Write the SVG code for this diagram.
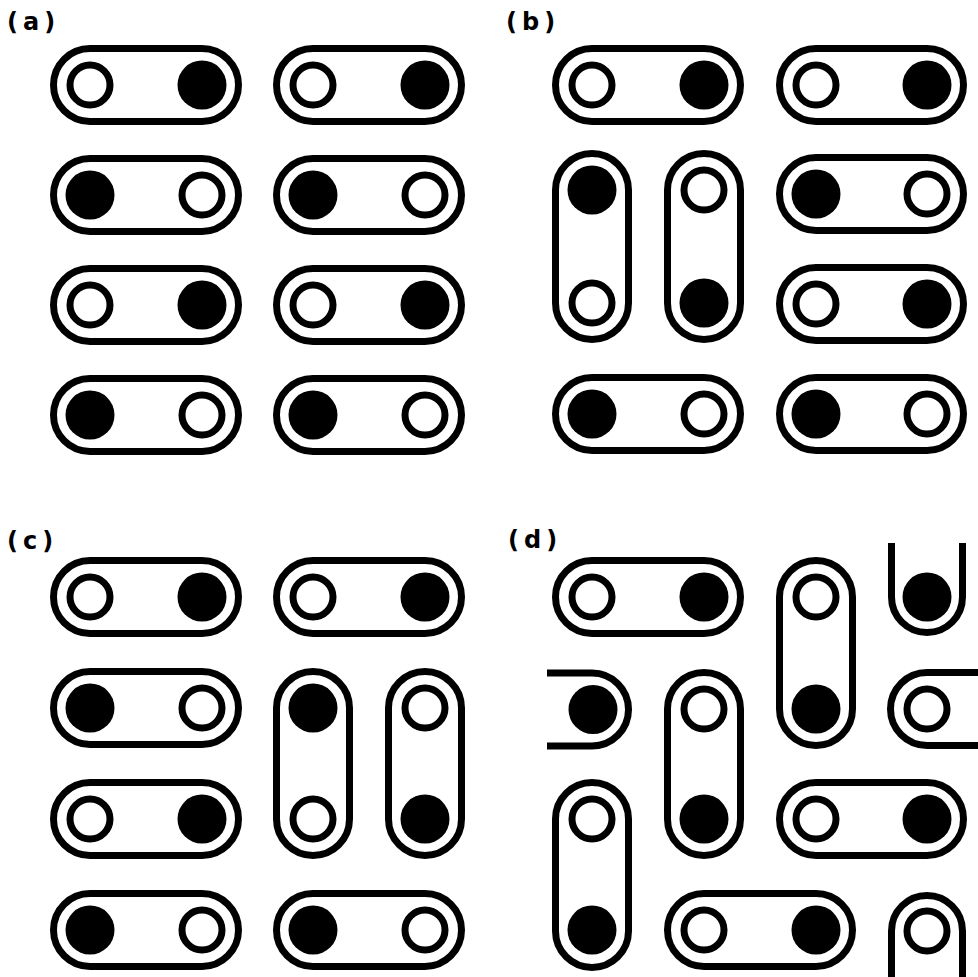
<svg xmlns="http://www.w3.org/2000/svg" width="978" height="977" viewBox="0 0 978 977">
<style>
.bg{fill:#fff}
.p{fill:none;stroke:#000;stroke-width:7}
.o{fill:#fff;stroke:#000;stroke-width:7}
.f{fill:#000}
.lbl{font-family:"DejaVu Sans",sans-serif;font-weight:bold;font-size:24px;letter-spacing:5px;fill:#000}
</style>
<rect class="bg" x="0" y="0" width="978" height="977"/>
<g id="labels">
<text class="lbl" x="7" y="30">(a)</text>
<text class="lbl" x="506" y="30">(b)</text>
<text class="lbl" x="7" y="549">(c)</text>
<text class="lbl" x="508" y="548">(d)</text>
</g>
<!-- Panel (a) -->
<g id="a11"><rect class="p" x="53.5" y="48.5" width="185" height="73" rx="36.5"/><circle class="o" cx="90" cy="85" r="20"/><circle class="f" cx="202" cy="85" r="24.5"/></g>
<g id="a12"><rect class="p" x="276.5" y="48.5" width="185" height="73" rx="36.5"/><circle class="o" cx="313" cy="85" r="20"/><circle class="f" cx="425" cy="85" r="24.5"/></g>
<g id="a21"><rect class="p" x="53.5" y="158.5" width="185" height="73" rx="36.5"/><circle class="f" cx="90" cy="195" r="24.5"/><circle class="o" cx="202" cy="195" r="20"/></g>
<g id="a22"><rect class="p" x="276.5" y="158.5" width="185" height="73" rx="36.5"/><circle class="f" cx="313" cy="195" r="24.5"/><circle class="o" cx="425" cy="195" r="20"/></g>
<g id="a31"><rect class="p" x="53.5" y="268.5" width="185" height="73" rx="36.5"/><circle class="o" cx="90" cy="305" r="20"/><circle class="f" cx="202" cy="305" r="24.5"/></g>
<g id="a32"><rect class="p" x="276.5" y="268.5" width="185" height="73" rx="36.5"/><circle class="o" cx="313" cy="305" r="20"/><circle class="f" cx="425" cy="305" r="24.5"/></g>
<g id="a41"><rect class="p" x="53.5" y="378.5" width="185" height="73" rx="36.5"/><circle class="f" cx="90" cy="415" r="24.5"/><circle class="o" cx="202" cy="415" r="20"/></g>
<g id="a42"><rect class="p" x="276.5" y="378.5" width="185" height="73" rx="36.5"/><circle class="f" cx="313" cy="415" r="24.5"/><circle class="o" cx="425" cy="415" r="20"/></g>
<!-- Panel (b) -->
<g id="b11"><rect class="p" x="555.5" y="48.5" width="185" height="73" rx="36.5"/><circle class="o" cx="592" cy="85" r="20"/><circle class="f" cx="704" cy="85" r="24.5"/></g>
<g id="b12"><rect class="p" x="779.5" y="48.5" width="184" height="73" rx="36.5"/><circle class="o" cx="816" cy="85" r="20"/><circle class="f" cx="927" cy="85" r="24.5"/></g>
<g id="bv1"><rect class="p" x="555.5" y="153.5" width="73" height="186" rx="36.5"/><circle class="f" cx="592" cy="190" r="24.5"/><circle class="o" cx="592" cy="303" r="20"/></g>
<g id="bv2"><rect class="p" x="667.5" y="153.5" width="73" height="186" rx="36.5"/><circle class="o" cx="704" cy="190" r="20"/><circle class="f" cx="704" cy="303" r="24.5"/></g>
<g id="b22"><rect class="p" x="779.5" y="157.5" width="184" height="73" rx="36.5"/><circle class="f" cx="816" cy="194" r="24.5"/><circle class="o" cx="927" cy="194" r="20"/></g>
<g id="b32"><rect class="p" x="779.5" y="267.5" width="184" height="73" rx="36.5"/><circle class="o" cx="816" cy="304" r="20"/><circle class="f" cx="927" cy="304" r="24.5"/></g>
<g id="b41"><rect class="p" x="555.5" y="377.5" width="185" height="73" rx="36.5"/><circle class="f" cx="592" cy="414" r="24.5"/><circle class="o" cx="704" cy="414" r="20"/></g>
<g id="b42"><rect class="p" x="779.5" y="377.5" width="184" height="73" rx="36.5"/><circle class="f" cx="816" cy="414" r="24.5"/><circle class="o" cx="927" cy="414" r="20"/></g>
<!-- Panel (c) -->
<g id="c11"><rect class="p" x="53.5" y="560.5" width="185" height="73" rx="36.5"/><circle class="o" cx="90" cy="597" r="20"/><circle class="f" cx="202" cy="597" r="24.5"/></g>
<g id="c12"><rect class="p" x="276.5" y="560.5" width="185" height="73" rx="36.5"/><circle class="o" cx="313" cy="597" r="20"/><circle class="f" cx="425" cy="597" r="24.5"/></g>
<g id="c21"><rect class="p" x="53.5" y="671.5" width="185" height="73" rx="36.5"/><circle class="f" cx="90" cy="708" r="24.5"/><circle class="o" cx="202" cy="708" r="20"/></g>
<g id="cv3"><rect class="p" x="276.5" y="671.5" width="73" height="184" rx="36.5"/><circle class="f" cx="313" cy="708" r="24.5"/><circle class="o" cx="313" cy="819" r="20"/></g>
<g id="cv4"><rect class="p" x="388.5" y="671.5" width="73" height="184" rx="36.5"/><circle class="o" cx="425" cy="708" r="20"/><circle class="f" cx="425" cy="819" r="24.5"/></g>
<g id="c31"><rect class="p" x="53.5" y="782.5" width="185" height="73" rx="36.5"/><circle class="o" cx="90" cy="819" r="20"/><circle class="f" cx="202" cy="819" r="24.5"/></g>
<g id="c41"><rect class="p" x="53.5" y="893.5" width="185" height="73" rx="36.5"/><circle class="f" cx="90" cy="930" r="24.5"/><circle class="o" cx="202" cy="930" r="20"/></g>
<g id="c42"><rect class="p" x="276.5" y="893.5" width="185" height="73" rx="36.5"/><circle class="f" cx="313" cy="930" r="24.5"/><circle class="o" cx="425" cy="930" r="20"/></g>
<!-- Panel (d) -->
<g id="d11"><rect class="p" x="555.5" y="560.5" width="185" height="73" rx="36.5"/><circle class="o" cx="592" cy="597" r="20"/><circle class="f" cx="704" cy="597" r="24.5"/></g>
<g id="dv3"><rect class="p" x="779.5" y="560.5" width="73" height="185" rx="36.5"/><circle class="o" cx="816" cy="597" r="20"/><circle class="f" cx="816" cy="709" r="24.5"/></g>
<g id="dU"><path class="p" d="M891.5,543 V597 A35.5,35.5 0 0 0 962.5,597 V543"/><circle class="f" cx="927" cy="597" r="24.5"/></g>
<g id="dL"><path class="p" d="M547,673 H592 A36.5,36.5 0 0 1 592,746 H547"/><circle class="f" cx="593" cy="709.5" r="24.5"/></g>
<g id="dv2"><rect class="p" x="667.5" y="672.5" width="73" height="183" rx="36.5"/><circle class="o" cx="704" cy="709" r="20"/><circle class="f" cx="704" cy="819" r="24.5"/></g>
<g id="dR"><path class="p" d="M978,672.5 H927 A36.5,36.5 0 0 0 927,745.5 H978"/><circle class="o" cx="927" cy="709" r="20"/></g>
<g id="dv1"><rect class="p" x="555.5" y="782.5" width="73" height="185" rx="36.5"/><circle class="o" cx="592" cy="819" r="20"/><circle class="f" cx="592" cy="930" r="24.5"/></g>
<g id="d32"><rect class="p" x="779.5" y="782.5" width="184" height="73" rx="36.5"/><circle class="o" cx="816" cy="819" r="20"/><circle class="f" cx="927" cy="819" r="24.5"/></g>
<g id="d42"><rect class="p" x="667.5" y="893.5" width="185" height="73" rx="36.5"/><circle class="o" cx="704" cy="930" r="20"/><circle class="f" cx="816" cy="930" r="24.5"/></g>
<g id="dN"><path class="p" d="M891.5,977 V931 A35.5,35.5 0 0 1 962.5,931 V977"/><circle class="o" cx="927" cy="931" r="20"/></g>
<g id="connectors"></g>
</svg>
